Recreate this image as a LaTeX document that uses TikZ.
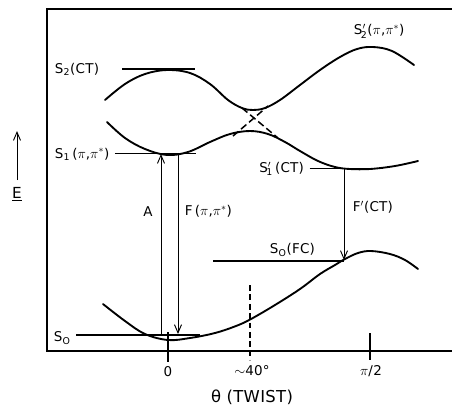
\documentclass[tikz,border=0pt]{standalone}
\usepackage{fontspec}
\setsansfont{DejaVu Sans}[LetterSpace=2]
\usetikzlibrary{arrows.meta}

\newcommand{\lsub}[1]{$_{\mbox{\footnotesize #1}}$}
\newcommand{\lpsub}[1]{$'_{\!\mbox{\footnotesize #1}}$}

\begin{document}
\begin{tikzpicture}[x=0.03cm, y=-0.03cm, line width=1.4pt,
    font=\sffamily\fontsize{11.5}{14}\selectfont,
    >={Straight Barb[length=7pt,width=6pt]},
    curve/.style={line width=1.6pt, line cap=round},
    level/.style={line width=1.4pt},
    trans/.style={line width=0.8pt, ->},
    tick/.style={line width=1pt},
    lbl/.style={inner sep=1pt}]
  \useasboundingbox (0,0) rectangle (452,407);
  % frame
  \draw[line width=1.3pt] (452,9) -- (47,9) -- (47,351) -- (452,351);
  % energy axis
  \coordinate (e0) at (17,180);
  \coordinate (e1) at (17,131);
  \draw[trans] (e0) -- (e1);
  \node[lbl, font=\sffamily\fontsize{13}{15}\selectfont] (E) at (17,194) {\underline{E}};
  % upper surface
  \draw[curve] plot[smooth, tension=0.6] coordinates {(105,100) (125,84) (145,74) (167,70) (190,73) (210,84) (228,100) (242,108) (253,110) (265,108) (280,100) (300,85) (320,70) (340,57) (357,49) (373,47) (392,51) (414,65)};
  % lower surface
  \draw[curve] plot[smooth, tension=0.6] coordinates {(107,122) (125,138) (145,149) (167,155) (188,152) (210,142) (230,134) (250,131) (268,134) (285,142) (300,151) (318,161) (335,167) (350,169) (370,169) (395,166) (418,161)};
  % ground state
  \draw[curve] plot[smooth, tension=0.6] coordinates {(103,304) (125,321) (145,334) (168,340) (190,338) (215,333) (236,326) (251,319) (275,305) (300,289) (320,274) (335,265) (345,259) (358,253) (371,251) (390,254) (405,260) (418,269)};
  % diabatic crossing
  \draw[line width=1.3pt, dash pattern=on 6pt off 3pt] (233,136) -- (268,106);
  \draw[line width=1.3pt, dash pattern=on 6pt off 3pt] (242,108) -- (278,138);
  % levels
  \node[lbl, anchor=west] (s2) at (53,69) {S\lsub{2}(CT)};
  \draw[level] (122,69) -- (195,69);
  \node[lbl, anchor=west] (s1) at (53,154) {S\lsub{1}\,($\pi$,$\pi^{*}$)};
  \draw[level] (s1.east) ++(3pt,-0.5) coordinate (s1l) -- (196,153.5);
  \node[lbl, anchor=west] (s2p) at (352,31) {S\lpsub{2}($\pi$,$\pi^{*}$)};
  \node[lbl, anchor=east] (s1p) at (306,169) {S\lpsub{1}\,(CT)};
  \draw[level] (s1p.east) ++(3pt,-0.5) coordinate (s1pl) -- (383,168.5);
  \node[lbl, anchor=west] (s0fc) at (268,250) {S\lsub{O}(FC)};
  \draw[level] (213,261) -- (344,261);
  \node[lbl, anchor=west] (s0) at (52,338) {S\lsub{O}};
  \draw[level] (76,335) -- (200,335);
  % transitions
  \coordinate (a0) at (161,335);
  \coordinate (a1) at (161,154);
  \draw[trans] (a0) -- (a1);
  \node[lbl] (A) at (148,212) {A};
  \coordinate (f0) at (178,154);
  \coordinate (f1) at (178,334);
  \draw[trans] (f0) -- (f1);
  \node[lbl, anchor=west] (F) at (183,211) {F\,($\pi$,$\pi^{*}$)};
  \coordinate (g0) at (344,169);
  \coordinate (g1) at (344,260);
  \draw[trans] (g0) -- (g1);
  \node[lbl, anchor=west] (Fp) at (351,207) {F$'$(CT)};
  % ticks
  \draw[tick] (168,332) -- (168,362);
  \draw[tick, dash pattern=on 5pt off 3pt] (250,285) -- (250,360);
  \draw[tick] (370,333) -- (370,360);
  \node[lbl] (t0) at (168,372) {0};
  \node[lbl] (t40) at (252,371) {$\sim$40°};
  \node[lbl] (t90) at (371,371) {$\pi$/2};
  \node[lbl, font=\sffamily\fontsize{14}{16}\selectfont] (theta) at (252,397) {θ (TWIST)};
\end{tikzpicture}
\end{document}
